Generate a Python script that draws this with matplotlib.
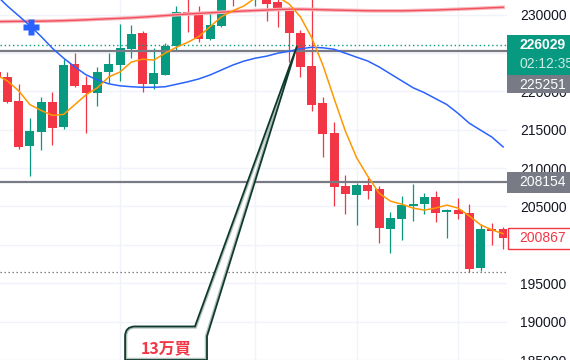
import numpy as np
import matplotlib
matplotlib.use("Agg")
import matplotlib.pyplot as plt
from matplotlib.patches import Rectangle, PathPatch
from matplotlib.path import Path

plt.rcParams['font.family'] = ['Liberation Sans', 'Noto Sans CJK JP', 'DejaVu Sans']

# candles (first one is cut by the left edge)
opens = [222500, 221900, 218800, 212890, 214690, 218670, 215330, 223550, 220850, 219830,
         222520, 223420, 225480, 227660, 220980, 222140, 225870, 230360, 230100, 226760,
         228560, 233300, 232400, 232000, 232800, 231650, 230750, 227540, 223300, 218540,
         214560, 207620, 206460, 207750, 207230, 202090, 203380, 205050, 205300, 206200,
         204280, 204530, 204150, 196950, 202090, 202090]
highs = [222900, 222520, 221000, 216480, 219310, 219950, 224190, 224970, 222010, 223170,
         224970, 228820, 228690, 227920, 225610, 226250, 231130, 232500, 231130, 230360,
         233200, 234000, 234500, 234600, 233500, 232000, 231000, 228050, 232500, 219310,
         215970, 209160, 208000, 208770, 207620, 204280, 206330, 207870, 206720, 206980,
         204660, 206080, 205300, 202730, 202860, 202350]
lows = [221600, 218540, 212500, 209030, 212370, 213010, 215070, 220600, 214560, 218030,
        221110, 221370, 224320, 219950, 220340, 222100, 225220, 227790, 226380, 226700,
        228400, 231130, 232100, 231130, 229200, 228430, 223810, 221880, 217380, 211470,
        205050, 204020, 202610, 205950, 200290, 198880, 200680, 203120, 204020, 202990,
        200940, 203380, 196500, 196600, 200040, 199520]
closes = [221800, 218670, 212760, 214810, 218670, 215200, 223420, 220720, 219830, 222520,
          223550, 225610, 227530, 220980, 222400, 225860, 230360, 229980, 226760, 228690,
          232600, 232300, 233800, 233500, 231390, 230750, 227540, 223170, 218280, 214430,
          207490, 206590, 207750, 206980, 202220, 203510, 205180, 205300, 206200, 204150,
          204530, 204020, 196820, 202090, 201840, 200867]

# moving averages
ma_fast = [222140, 221370, 220080, 218280, 217510, 216870, 217000, 218280, 219570, 220470,
           221880, 222520, 223810, 224190, 224070, 224970, 225740, 226380, 227150, 228430,
           229720, 230490, 231130, 232160, 232550, 232290, 231390, 229720, 227020, 223420,
           219050, 214810, 211340, 208900, 206720, 205690, 205300, 204790, 204530, 204790,
           205180, 204790, 203760, 202610, 201960, 201450]
ma_mid = [232550, 231130, 229850, 228560, 227150, 225610, 224320, 223170, 222140, 221500,
          220980, 220720, 220600, 220530, 220530, 220600, 220920, 221240, 221620, 222140,
          222780, 223420, 223940, 224320, 224580, 224970, 225220, 225540, 225740, 225670,
          225480, 224970, 224450, 223940, 223170, 222270, 221370, 220470, 219830, 219050,
          218280, 217130, 215840, 214940, 214040, 212760]
ma_slow = [229080, 229100, 229120, 229130, 229140, 229170, 229210, 229260, 229320, 229390,
           229450, 229510, 229580, 229670, 229770, 229870, 229980, 230070, 230160, 230230,
           230310, 230390, 230470, 230530, 230590, 230660, 230700, 230700, 230670, 230630,
           230590, 230560, 230530, 230500, 230490, 230490, 230490, 230520, 230560, 230590,
           230650, 230700, 230760, 230820, 230890, 230950]

level_upper = 225251
level_lower = 208154
current_price = 226029
countdown = '02:12:35'
recent_low = 196500
last_price = closes[-1]
note_text = '13万買'
cross_at = (2.1, 228430)
price_ticks = list(range(185000, 235000, 5000))
day_breaks = [10, 22, 31, 40]

up_col = '#089981'
down_col = '#f23645'
grey = '#787b86'

x = np.arange(-1, len(opens) - 1)
o = np.array(opens)
c = np.array(closes)
cols = [up_col if cc >= oo else down_col for oo, cc in zip(o, c)]

fig = plt.figure(figsize=(5.7, 3.6), dpi=100)
ax = fig.add_axes([0, 0, 507 / 570, 1])
ax.set_xlim(-0.65, 44.34)
ax.set_ylim(185640, 231900)
ppx = (231900 - 185640) / 360.0  # price per pixel

for s in ax.spines.values():
    s.set_visible(False)
ax.set_axisbelow(True)
ax.grid(color='#f0f3fa', lw=1)
ax.set_xticks(day_breaks)
ax.tick_params(axis='x', length=0, labelbottom=False)
ax.yaxis.tick_right()
ax.set_yticks(price_ticks)
ax.set_yticklabels([str(t) for t in price_ticks])
ax.tick_params(axis='y', length=0, pad=9.4, labelsize=10, labelcolor='#131722')

# candles
ax.vlines(x, lows, highs, colors=cols, lw=0.9, zorder=2)
body = np.maximum(np.abs(c - o), 1.2 * ppx)
ax.bar(x, body, bottom=np.minimum(o, c), width=0.8, color=cols, zorder=3)

# horizontal levels
ax.axhline(level_upper, color=grey, lw=1.6, zorder=4)
ax.axhline(level_lower, color=grey, lw=1.6, zorder=4)
ax.axhline(current_price, color=up_col, lw=1, ls=(0, (1, 2)), zorder=4)
ax.axhline(recent_low, color='#5d606b', lw=0.9, ls=(0, (1, 2.2)), zorder=4)

# moving averages
ax.plot(x, ma_slow, color='#f7b4bb', lw=2.6, zorder=5)
ax.plot(x, ma_slow, color='#f23645', lw=1.0, alpha=0.8, zorder=5)
ax.plot(x, ma_mid, color='#2962ff', lw=1.1, zorder=5)
ax.plot(x, ma_fast, color='#ff9800', lw=1.1, zorder=5)

ax.plot(*cross_at, marker='P', ms=11, color='#2962ff', mec='none', zorder=6)

# callout bubble
verts = [(10.45, 185000), (10.45, 188085), (10.45, 189370), (11.33, 189370),
         (16.65, 189370), (25.7, 225900), (17.72, 188085), (17.72, 185000), (10.45, 185000)]
codes = [Path.MOVETO, Path.LINETO, Path.CURVE3, Path.CURVE3,
         Path.LINETO, Path.LINETO, Path.LINETO, Path.LINETO, Path.CLOSEPOLY]
bubble = Path(verts, codes)
fill = PathPatch(bubble, fc='white', ec='none', zorder=7)
ax.add_patch(fill)
shade = PathPatch(bubble, fc='none', ec='#b5c2bc', lw=3.2, zorder=7.1)
ax.add_patch(shade)
shade.set_clip_path(fill)
ax.add_patch(PathPatch(bubble, fc='none', ec='#0e3b2e', lw=1.3, zorder=7.2))
ax.text(14.08, 186540, note_text, color=down_col, fontsize=11.5, fontweight='bold',
        family=['Noto Sans CJK JP'], ha='center', va='center', zorder=8)

# price scale labels
ax2 = fig.add_axes([507 / 570, 0, 63 / 570, 1])
ax2.set_xlim(0, 63)
ax2.set_ylim(ax.get_ylim())
ax2.axis('off')

ax2.add_patch(Rectangle((0, current_price - 30 * ppx), 70, 40 * ppx, fc=up_col, ec='none'))
ax2.add_patch(Rectangle((0, current_price - 49 * ppx), 70, 19 * ppx, fc=grey, ec='none'))
ax2.add_patch(Rectangle((0, level_lower - 10.5 * ppx), 70, 21 * ppx, fc=grey, ec='none'))
ax2.add_patch(Rectangle((0.5, last_price - 10.5 * ppx), 70, 21 * ppx, fc='white',
                        ec=down_col, lw=1))
lab = dict(fontsize=10, ha='left', va='center', clip_on=False)
ax2.text(12, current_price, str(current_price), color='white', fontweight='bold', **lab)
ax2.text(12, current_price - 19 * ppx, countdown, color='#c9ece5', **lab)
ax2.text(12, current_price - 40 * ppx, str(level_upper), color='white', **lab)
ax2.text(12, level_lower, str(level_lower), color='white', **lab)
ax2.text(12, last_price, str(last_price), color=down_col, **lab)

fig.savefig('out.png', dpi=100)
